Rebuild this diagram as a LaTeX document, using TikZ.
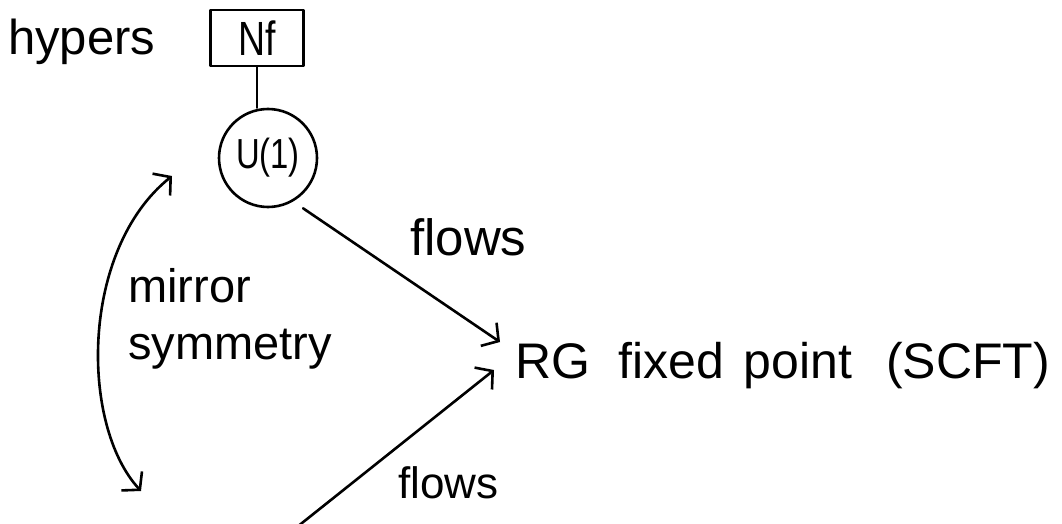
\documentclass[tikz,border=0pt]{standalone}
\usepackage{fontspec}
\setmainfont{Liberation Sans}
\newfontfamily\narrowfont[FakeStretch=0.78]{Liberation Sans}
\usetikzlibrary{arrows.meta}
\tikzset{
  ln/.style={line width=2.6pt, line cap=round, line join=round},
  arr/.style={ln, -{Straight Barb[length=12pt,width=28pt]}},
  dblarr/.style={ln, {Straight Barb[length=12pt,width=28pt]}-{Straight Barb[length=12pt,width=28pt]}},
  txt/.style={inner sep=0pt, anchor=base west},
}
\begin{document}
\begin{tikzpicture}[x=1pt,y=-1pt]
\useasboundingbox (0,0) rectangle (1062,524);
% texts
\node[txt, font=\fontsize{49}{58}\selectfont] (hy) at (8,55) {hypers};
\node[draw, ln, minimum width=93pt, minimum height=56pt, inner sep=0pt,
      font=\narrowfont\fontsize{48}{56}\selectfont] (nf) at (257,38) {Nf};
\node[draw, ln, circle, minimum size=98pt, inner sep=0pt,
      font=\narrowfont\fontsize{42}{50}\selectfont] (u1) at (268,158) {U(1)};
\node[txt, font=\fontsize{50}{58}\selectfont] (rg) at (515,378)
  {RG\hspace{28pt}fixed\hspace{20pt}point\hspace{34pt}(SCFT)};
\node[txt, font=\fontsize{51}{60}\selectfont] (fl1) at (410,255) {flows};
\node[txt, font=\fontsize{44}{52}\selectfont] (fl2) at (398,498) {flows};
\node[inner sep=0pt, anchor=north west, align=left,
      font=\fontsize{47}{57}\selectfont] (ms) at (128,268) {mirror\\symmetry};
% connectors
\draw[ln] (nf.south) -- (nf.south |- u1.north);
\coordinate (t1) at (500,342);
\coordinate (s2) at (297,527);
\coordinate (t2) at (494,370);
\coordinate (m1) at (172,176);
\coordinate (m2) at (141,491);
\draw[arr, shorten <=12pt] (u1.-60) -- (t1);
\draw[arr] (s2) -- (t2);
\draw[dblarr] (m1) .. controls (80,250) and (80,425) .. (m2);
\end{tikzpicture}
\end{document}
